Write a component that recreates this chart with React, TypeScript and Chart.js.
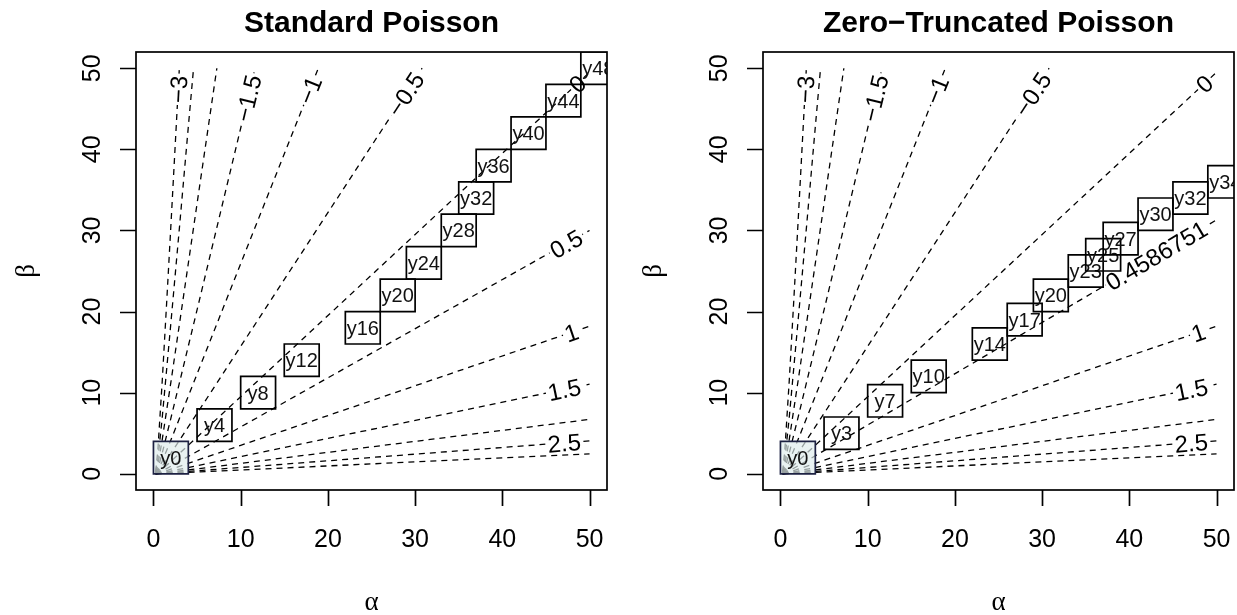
import React, { useEffect, useRef } from "react";
import { Chart, registerables } from "chart.js";

Chart.register(...registerables);

const FONT = '"Liberation Sans", Arial, Helvetica, sans-serif';
const SERIF = '"Liberation Serif", "DejaVu Serif", serif';

// ---- axes ----
const xTicks = [0, 10, 20, 30, 40, 50];
const yTicks = [0, 10, 20, 30, 40, 50];
const axisMin = -2;
const axisMax = 52;

// ---- contour levels (E[log lambda] = digamma(alpha) - log(beta)) ----
const stdLevels = [-3, -2.5, -2, -1.5, -1, -0.5, 0, 0.5, 1, 1.5, 2, 2.5, 3];
const ztLevels = [-3, -2.5, -2, -1.5, -1, -0.5, 0, 0.4586751, 1, 1.5, 2, 2.5, 3];

// contour paths, one row per level (alpha values / beta values)
const stdPathAlpha = [
  [0.25, 0.5, 1, 1.5, 2, 2.5, 2.97],
  [0.25, 0.5, 1, 2, 3, 4, 4.6],
  [0.25, 0.5, 1, 2, 3, 5, 7.27],
  [0.25, 0.5, 1, 2, 5, 10, 11.65],
  [0.25, 0.5, 1, 2, 5, 10, 18.9],
  [0.25, 0.5, 1, 2, 5, 10, 30.8],
  [0.25, 0.5, 1, 2, 5, 10, 50],
  [0.25, 0.5, 1, 2, 5, 10, 50],
  [0.25, 0.5, 1, 2, 5, 10, 50],
  [0.25, 0.5, 1, 2, 5, 10, 50],
  [0.25, 0.5, 1, 2, 5, 10, 50],
  [0.25, 0.5, 1, 2, 5, 10, 50],
  [0.25, 0.5, 1, 2, 5, 10, 50],
];
const stdPathBeta = [
  [0.29, 2.83, 11.3, 20.8, 30.6, 40.6, 50],
  [0.18, 1.72, 6.85, 18.6, 30.6, 42.8, 50],
  [0.11, 1.04, 4.16, 11.3, 18.6, 33.3, 50],
  [0.065, 0.63, 2.52, 6.85, 20.2, 42.6, 50],
  [0.04, 0.38, 1.53, 4.16, 12.3, 25.9, 50],
  [0.024, 0.23, 0.93, 2.52, 7.44, 15.7, 50],
  [0.015, 0.14, 0.56, 1.53, 4.51, 9.5, 49.5],
  [0.009, 0.085, 0.34, 0.93, 2.74, 5.77, 30.0],
  [0.005, 0.052, 0.21, 0.56, 1.66, 3.5, 18.2],
  [0.003, 0.031, 0.125, 0.34, 1.0, 2.12, 11.05],
  [0.002, 0.019, 0.076, 0.21, 0.61, 1.29, 6.7],
  [0.001, 0.011, 0.046, 0.125, 0.37, 0.78, 4.06],
  [0.001, 0.007, 0.028, 0.076, 0.22, 0.47, 2.46],
];
const ztPathAlpha = stdPathAlpha;
const ztPathBeta = [
  ...stdPathBeta.slice(0, 7),
  [0.009, 0.089, 0.355, 0.97, 2.85, 6.01, 31.3],
  ...stdPathBeta.slice(8),
];

// contour labels (which levels carry a label, and where)
const stdLabelLevels = [-3, -1.5, -1, -0.5, 0, 0.5, 1, 1.5, 2.5];
const stdLabelAlpha = [2.84, 10.83, 17.9, 28.9, 48.6, 47.3, 47.9, 47.1, 47.1];
const stdLabelBeta = [47.4, 46.3, 47.3, 46.8, 48.1, 28.36, 17.43, 10.4, 3.82];

const ztLabelLevels = [-3, -1.5, -1, -0.5, 0, 0.4586751, 1, 1.5, 2.5];
const ztLabelAlpha = [2.84, 10.83, 17.9, 28.9, 48.6, 43.1, 47.9, 47.1, 47.1];
const ztLabelBeta = [47.4, 46.3, 47.3, 46.8, 48.1, 26.94, 17.43, 10.4, 3.82];

// posterior boxes: lower-left corner (alpha, beta), labelled y<beta>
const boxAlpha = [0, 5, 10, 15, 22, 26, 29, 33, 35, 37, 41, 45, 49];
const stdBoxBeta = [0, 4, 8, 12, 16, 20, 24, 28, 32, 36, 40, 44, 48];
const ztBoxBeta = [0, 3, 7, 10, 14, 17, 20, 23, 25, 27, 30, 32, 34];
const boxSize = 4;

type PanelProps = {
  width: number;
  boxLeft: number;
  padRight: number;
  title: string;
  levels: number[];
  pathAlpha: number[][];
  pathBeta: number[][];
  labelLevels: number[];
  labelAlpha: number[];
  labelBeta: number[];
  boxA: number[];
  boxB: number[];
};

const fmt = (v: number) => (v < 0 ? "\u2212" + String(Math.abs(v)) : String(v));

function Panel(p: PanelProps) {
  const ref = useRef<HTMLCanvasElement | null>(null);

  useEffect(() => {
    if (!ref.current) return;
    const TOP = 52;
    const XAXIS_H = 615 - 490;

    const labelGeom = (chart: any) => {
      const { ctx, scales } = chart;
      const xs = scales.x;
      const ys = scales.y;
      ctx.save();
      ctx.font = `24px ${FONT}`;
      const res = p.labelLevels.map((lvl, i) => {
        const k = p.levels.indexOf(lvl);
        const pa = p.pathAlpha[k];
        const pb = p.pathBeta[k];
        const n = pa.length;
        const x1 = xs.getPixelForValue(pa[n - 2]);
        const y1 = ys.getPixelForValue(pb[n - 2]);
        const x2 = xs.getPixelForValue(pa[n - 1]);
        const y2 = ys.getPixelForValue(pb[n - 1]);
        const ang = Math.atan2(y2 - y1, x2 - x1);
        const cx = xs.getPixelForValue(p.labelAlpha[i]);
        const cy = ys.getPixelForValue(p.labelBeta[i]);
        const text = fmt(lvl);
        const w = ctx.measureText(text).width;
        return { cx, cy, ang, text, w };
      });
      ctx.restore();
      return res;
    };

    const plugin = {
      id: "rstyle",
      beforeDatasetsDraw(chart: any) {
        const { ctx, chartArea: ca } = chart;
        const geoms = labelGeom(chart);
        ctx.save();
        ctx.beginPath();
        ctx.rect(ca.left, ca.top, ca.right - ca.left, ca.bottom - ca.top);
        geoms.forEach((g) => {
          const hw = g.w / 2 + 2;
          const hh = 10;
          const c = Math.cos(g.ang);
          const s = Math.sin(g.ang);
          const pts = [
            [-hw, -hh],
            [hw, -hh],
            [hw, hh],
            [-hw, hh],
          ].map(([u, v]) => [g.cx + u * c - v * s, g.cy + u * s + v * c]);
          ctx.moveTo(pts[0][0], pts[0][1]);
          for (let j = 1; j < 4; j++) ctx.lineTo(pts[j][0], pts[j][1]);
          ctx.closePath();
        });
        ctx.clip("evenodd");
      },
      afterDatasetsDraw(chart: any) {
        const { ctx, chartArea: ca, scales } = chart;
        const xs = scales.x;
        const ys = scales.y;
        ctx.restore();

        // contour labels
        const geoms = labelGeom(chart);
        ctx.save();
        ctx.fillStyle = "#000";
        ctx.font = `24px ${FONT}`;
        ctx.textAlign = "center";
        ctx.textBaseline = "alphabetic";
        geoms.forEach((g) => {
          ctx.save();
          ctx.translate(g.cx, g.cy);
          ctx.rotate(g.ang);
          ctx.fillText(g.text, 0, 8.6);
          ctx.restore();
        });
        ctx.restore();

        // boxes
        ctx.save();
        ctx.beginPath();
        ctx.rect(ca.left, ca.top, ca.right - ca.left, ca.bottom - ca.top);
        ctx.clip();
        p.boxA.forEach((a, i) => {
          const b = p.boxB[i];
          const x0 = xs.getPixelForValue(a);
          const x1 = xs.getPixelForValue(a + boxSize);
          const y0 = ys.getPixelForValue(b);
          const y1 = ys.getPixelForValue(b + boxSize);
          ctx.beginPath();
          ctx.rect(x0, y1, x1 - x0, y0 - y1);
          if (i === 0) {
            ctx.fillStyle = "rgba(222,236,236,0.68)";
            ctx.fill();
            ctx.strokeStyle = "#1d2142";
          } else {
            ctx.strokeStyle = "#000";
          }
          ctx.lineWidth = 1.7;
          ctx.stroke();
          ctx.fillStyle = "#111";
          ctx.font = `20px ${FONT}`;
          ctx.textAlign = "center";
          ctx.textBaseline = "alphabetic";
          ctx.fillText("y" + b, (x0 + x1) / 2, (y0 + y1) / 2 + 7);
        });
        ctx.restore();
      },
      afterDraw(chart: any) {
        const { ctx, chartArea: ca, scales } = chart;
        const xs = scales.x;
        const ys = scales.y;
        ctx.save();
        ctx.strokeStyle = "#000";
        ctx.lineWidth = 1.7;
        ctx.strokeRect(ca.left, ca.top, ca.right - ca.left, ca.bottom - ca.top);

        // ticks
        ctx.beginPath();
        xTicks.forEach((v) => {
          const px = Math.round(xs.getPixelForValue(v)) + 0.5;
          ctx.moveTo(px, ca.bottom);
          ctx.lineTo(px, ca.bottom + 16);
        });
        yTicks.forEach((v) => {
          const py = Math.round(ys.getPixelForValue(v)) + 0.5;
          ctx.moveTo(ca.left, py);
          ctx.lineTo(ca.left - 16, py);
        });
        ctx.stroke();

        // tick labels
        ctx.fillStyle = "#000";
        ctx.font = `25px ${FONT}`;
        ctx.textAlign = "center";
        ctx.textBaseline = "alphabetic";
        xTicks.forEach((v) => {
          ctx.fillText(String(v), xs.getPixelForValue(v), 547);
        });
        yTicks.forEach((v) => {
          ctx.save();
          ctx.translate(ca.left - 36.5, ys.getPixelForValue(v));
          ctx.rotate(-Math.PI / 2);
          ctx.fillText(String(v), 0, 0);
          ctx.restore();
        });

        // axis titles
        const midX = (ca.left + ca.right) / 2;
        const midY = (ca.top + ca.bottom) / 2;
        ctx.font = `27px ${SERIF}`;
        ctx.fillText("\u03b1", midX, 610);
        ctx.save();
        ctx.translate(ca.left - 109, midY);
        ctx.rotate(-Math.PI / 2);
        ctx.textBaseline = "middle";
        ctx.fillText("\u03b2", 0, 0);
        ctx.restore();

        // main title
        ctx.font = `bold 30px ${FONT}`;
        ctx.textBaseline = "alphabetic";
        ctx.fillText(p.title, midX, 32);
        ctx.restore();
      },
    };

    const datasets = p.levels.map((lvl, k) => ({
      label: fmt(lvl),
      data: p.pathAlpha[k].map((a, j) => ({ x: a, y: p.pathBeta[k][j] })),
      showLine: true,
      borderColor: "#000",
      borderWidth: 1.3,
      borderDash: [6, 5],
      pointRadius: 0,
      pointHoverRadius: 0,
      fill: false,
      tension: 0,
    }));

    const chart = new Chart(ref.current, {
      type: "scatter",
      data: { datasets },
      options: {
        animation: false,
        responsive: false,
        devicePixelRatio: 1,
        events: [],
        layout: { padding: { left: 0, top: TOP, right: p.padRight, bottom: 0 } },
        plugins: {
          legend: { display: false },
          tooltip: { enabled: false },
          title: { display: false },
        },
        scales: {
          x: {
            type: "linear",
            position: "bottom",
            min: axisMin,
            max: axisMax,
            ticks: { display: false },
            grid: { display: false },
            border: { display: false },
            afterBuildTicks: (s: any) => {
              s.ticks = xTicks.map((v) => ({ value: v }));
            },
            afterFit: (s: any) => {
              s.height = XAXIS_H;
            },
          },
          y: {
            type: "linear",
            position: "left",
            min: axisMin,
            max: axisMax,
            ticks: { display: false },
            grid: { display: false },
            border: { display: false },
            afterBuildTicks: (s: any) => {
              s.ticks = yTicks.map((v) => ({ value: v }));
            },
            afterFit: (s: any) => {
              s.width = p.boxLeft;
            },
          },
        },
      } as any,
      plugins: [plugin],
    });
    return () => chart.destroy();
  }, []);

  return (
    <canvas
      ref={ref}
      width={p.width}
      height={615}
      style={{ display: "block", width: p.width, height: 615 }}
    />
  );
}

export default function App() {
  return (
    <div
      style={{
        position: "fixed",
        left: 0,
        top: 0,
        width: 1237,
        height: 615,
        background: "#fff",
        display: "flex",
      }}
    >
      <Panel
        width={618}
        boxLeft={136}
        padRight={11}
        title="Standard Poisson"
        levels={stdLevels}
        pathAlpha={stdPathAlpha}
        pathBeta={stdPathBeta}
        labelLevels={stdLabelLevels}
        labelAlpha={stdLabelAlpha}
        labelBeta={stdLabelBeta}
        boxA={boxAlpha}
        boxB={stdBoxBeta}
      />
      <Panel
        width={619}
        boxLeft={145}
        padRight={3}
        title={"Zero\u2212Truncated Poisson"}
        levels={ztLevels}
        pathAlpha={ztPathAlpha}
        pathBeta={ztPathBeta}
        labelLevels={ztLabelLevels}
        labelAlpha={ztLabelAlpha}
        labelBeta={ztLabelBeta}
        boxA={boxAlpha}
        boxB={ztBoxBeta}
      />
    </div>
  );
}
